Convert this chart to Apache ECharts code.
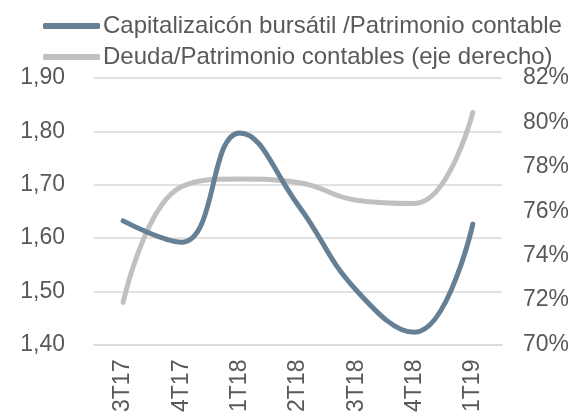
<!DOCTYPE html>
<html>
<head>
<meta charset="utf-8">
<script src="https://cdn.jsdelivr.net/npm/echarts@6/dist/echarts.min.js"></script>
<style>
  html, body { margin: 0; padding: 0; background: #fff; }
  #chart { width: 584px; height: 415px; }
</style>
</head>
<body>
<div id="chart"></div>
<script>
const categories = ['3T17', '4T17', '1T18', '2T18', '3T18', '4T18', '1T19']
const capBursatil = [1.632, 1.592, 1.797, 1.662, 1.502, 1.423, 1.626]
const deudaPatrimonio = [71.9, 77.1, 77.45, 77.3, 76.5, 76.35, 80.45]

const textColor = '#595959'
const font = 'Liberation Sans, Arial, sans-serif'

const chart = echarts.init(document.getElementById('chart'))
const option = {
  animation: false,
  legend: {
    orient: 'vertical',
    left: 38,
    top: 9,
    itemWidth: 57,
    itemHeight: 6,
    itemGap: 7,
    textStyle: { color: textColor, fontSize: 24, fontFamily: font, padding: [0, 0, 0, -2] },
    data: [
      { name: 'Capitalizaicón bursátil /Patrimonio contable', icon: 'roundRect' },
      { name: 'Deuda/Patrimonio contables (eje derecho)', icon: 'roundRect' }
    ]
  },
  grid: { left: 94, right: 82, top: 78, bottom: 68 },
  xAxis: {
    type: 'category',
    data: categories,
    axisLine: { lineStyle: { color: '#d9d9d9', width: 1.5 } },
    axisTick: { show: false },
    axisLabel: { rotate: 90, margin: 15, color: textColor, fontSize: 23, fontFamily: font }
  },
  yAxis: [
    {
      type: 'value',
      min: 1.4,
      max: 1.9,
      interval: 0.1,
      axisLine: { show: false },
      axisTick: { show: false },
      splitLine: { lineStyle: { color: '#d9d9d9', width: 1.5 } },
      axisLabel: {
        margin: 29,
        color: textColor,
        fontSize: 23,
        fontFamily: font,
        formatter: (v) => v.toFixed(2).replace('.', ',')
      }
    },
    {
      type: 'value',
      min: 70,
      max: 82,
      interval: 2,
      axisLine: { show: false },
      axisTick: { show: false },
      splitLine: { show: false },
      axisLabel: { margin: 21, color: textColor, fontSize: 23, fontFamily: font, formatter: '{value}%' }
    }
  ],
  series: [
    {
      name: 'Capitalizaicón bursátil /Patrimonio contable',
      type: 'line',
      data: capBursatil,
      smooth: 0.45,
      showSymbol: false,
      color: '#657f94',
      lineStyle: { width: 5, cap: 'round' },
      z: 3
    },
    {
      name: 'Deuda/Patrimonio contables (eje derecho)',
      type: 'line',
      yAxisIndex: 1,
      data: deudaPatrimonio,
      smooth: 0.45,
      showSymbol: false,
      color: '#c0c0c0',
      lineStyle: { width: 5, cap: 'round' },
      z: 2
    }
  ]
}
chart.setOption(option)
</script>
</body>
</html>
